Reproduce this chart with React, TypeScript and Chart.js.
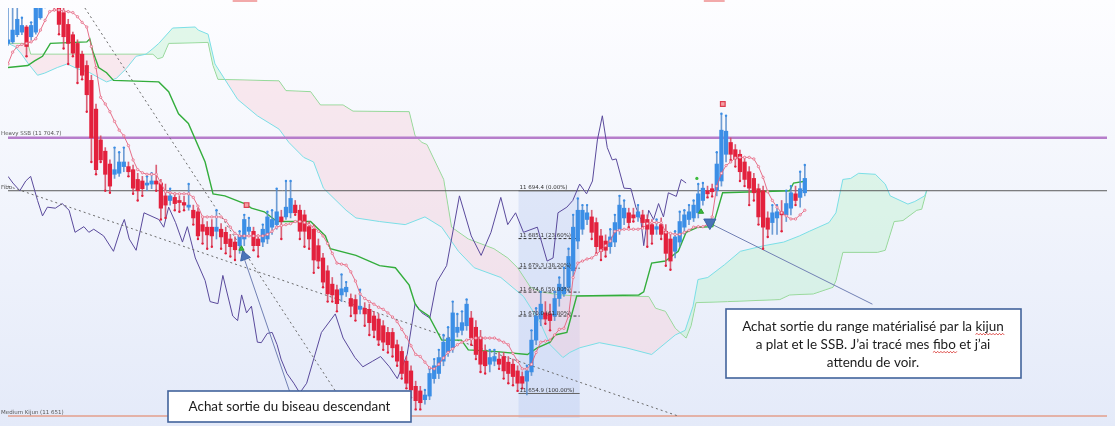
import React, { useEffect, useRef } from "react";
import { Chart, registerables } from "chart.js";

Chart.register(...registerables);

// ---------- DATA ----------
const opens = [
  11723.1, 11723.4, 11724.8, 11725.3, 11726.3, 11724.4, 11725.3, 11728.1, 11730.6, 11733.8,
  11732.8, 11730, 11729.1, 11726.8, 11724.8, 11723.1, 11721, 11718.8, 11715.9, 11710.3,
  11704.3, 11702.1, 11699.6, 11697.6, 11697.8, 11699.1, 11699.1, 11698.5, 11696.6, 11696.3,
  11695.5, 11695.7, 11696.3, 11695.9, 11693.4, 11692.5, 11693.1, 11692.5, 11692.1, 11691.2,
  11690.6, 11690.3, 11687.8, 11687.3, 11687.3, 11686.5, 11686.9, 11686.3, 11685, 11684.4,
  11683.7, 11685, 11686.5, 11686.5, 11685, 11684.4, 11685, 11687.3, 11687.8, 11689.3,
  11689.3, 11690.1, 11691.6, 11690.6, 11689.7, 11687.4, 11686.9, 11683.7, 11681.3, 11678.8,
  11676.2, 11675.1, 11674.1, 11674.7, 11673.4, 11673.2, 11671.3, 11671.5, 11671.3, 11670,
  11669.4, 11668.1, 11666.8, 11666.8, 11664.4, 11663.1, 11661.2, 11659.3, 11656.3, 11655.4,
  11653.7, 11654.4, 11657.8, 11658.8, 11661.2, 11662.9, 11663.8, 11666.8, 11667.2, 11668.1,
  11669.6, 11667.8, 11665.9, 11663.1, 11660.6, 11661.2, 11661.6, 11662.1, 11661, 11660.6,
  11659.3, 11658.2, 11657.3, 11659.1, 11665.3, 11669.4, 11670.6, 11670.4, 11670, 11673.4,
  11674.3, 11675.6, 11678.8, 11684.6, 11686.9, 11688.8, 11689.3, 11688.2, 11685.6, 11684.6,
  11683.5, 11684.4, 11686.9, 11689.1, 11690.1, 11689.7, 11689.3, 11689.7, 11688.8, 11687.8,
  11686.9, 11687.8, 11686.5, 11685, 11682.6, 11684.4, 11687.3, 11688.8, 11689.1, 11690.1,
  11692.5, 11694.4, 11694.8, 11694.4, 11696.3, 11701.5, 11703.8, 11702.4, 11701.5, 11700,
  11698.1, 11696.8, 11694.8, 11694.4, 11689.1, 11688.2, 11689.1, 11690.3, 11689.7, 11691,
  11693.8, 11693.1, 11694,
];
const highs = [
  11731, 11730.5, 11730.9, 11728.1, 11726.6, 11727.2, 11730.9, 11731.9, 11734.7, 11735.3,
  11733.8, 11730.9, 11730, 11727.8, 11725.3, 11723.8, 11721.6, 11719.7, 11716.9, 11711.3,
  11705.1, 11702.8, 11700.4, 11702.8, 11701.9, 11702.8, 11700, 11699.4, 11697.8, 11697.2,
  11697.2, 11697.8, 11699.4, 11696.6, 11695.7, 11694.8, 11694, 11693.4, 11693.3, 11695.7,
  11691.6, 11691, 11689.1, 11688.4, 11688.8, 11690.6, 11688, 11687.3, 11685.9, 11685.4,
  11686.5, 11689.7, 11689.1, 11687.3, 11685.8, 11687.8, 11690.3, 11690.6, 11694.8, 11690.6,
  11696.3, 11696.3, 11692.5, 11691.6, 11690.6, 11688.4, 11687.8, 11685, 11682.2, 11679.8,
  11677.5, 11676, 11678.1, 11676.6, 11674.3, 11674.1, 11675.1, 11672.6, 11672.3, 11670.9,
  11670.4, 11669.1, 11667.8, 11667.6, 11665.3, 11664, 11662.1, 11660.3, 11657.3, 11656.3,
  11655.6, 11659.7, 11661.6, 11663.4, 11666.3, 11667.8, 11672.8, 11670.4, 11670.9, 11673.2,
  11670.9, 11669.1, 11667.2, 11664.4, 11663.4, 11663.4, 11662.9, 11662.9, 11662.1, 11661.6,
  11660.3, 11659.1, 11660.3, 11667.2, 11671.5, 11674.7, 11672.8, 11672.3, 11674.7, 11677.5,
  11679.4, 11683.1, 11689.7, 11692.9, 11691.6, 11691.6, 11690.6, 11689.1, 11686.9, 11685.8,
  11686.9, 11689.7, 11693.4, 11692.5, 11691, 11691, 11691.6, 11690.6, 11689.7, 11688.8,
  11688.8, 11689.1, 11687.8, 11685.9, 11686.5, 11690.3, 11690.6, 11691.6, 11692.5, 11695.7,
  11695.9, 11695.3, 11695.7, 11701.9, 11709.4, 11709, 11704.7, 11703.4, 11702.3, 11700.9,
  11699.1, 11697.8, 11695.7, 11695.3, 11690.3, 11691.6, 11691.6, 11692.5, 11694.4, 11695.3,
  11695.3, 11698.1, 11699.4,
];
const lows = [
  11722.7, 11723.1, 11724.4, 11724.8, 11720.6, 11723.8, 11724.9, 11727.8, 11730, 11730.4,
  11729.6, 11724.9, 11722.1, 11719.1, 11720.6, 11715.4, 11716.1, 11709.8, 11700, 11697.6,
  11700, 11694.4, 11694, 11696.8, 11697.2, 11698.1, 11697.2, 11693.8, 11692.5, 11693.4,
  11694.4, 11694.8, 11694.4, 11688.8, 11689.1, 11691.6, 11690.6, 11690.3, 11690.6, 11690.6,
  11687.8, 11685, 11684.1, 11683.1, 11683.5, 11685, 11683.1, 11682.2, 11681.6, 11680.9,
  11682.2, 11683.7, 11685.8, 11682.8, 11681.6, 11683.5, 11684.1, 11685.9, 11686.9, 11685,
  11688.8, 11689.1, 11689.7, 11685, 11683.5, 11683.1, 11678.4, 11679.4, 11675.6, 11672.8,
  11672.8, 11670.9, 11672.8, 11673.8, 11670, 11669.1, 11670.4, 11668.1, 11666.3, 11665.9,
  11664.4, 11663.4, 11662.9, 11662.1, 11660.3, 11657.8, 11655.9, 11654.1, 11651.8, 11651.8,
  11652.8, 11653.7, 11656.9, 11657.8, 11660.3, 11662.1, 11662.9, 11665.9, 11666.3, 11667.2,
  11664.4, 11661.6, 11659.1, 11658.8, 11659.1, 11660.3, 11659.7, 11657.8, 11656.9, 11656.5,
  11655.4, 11655.9, 11654.6, 11658.4, 11664.4, 11668.1, 11668.5, 11667.2, 11669.1, 11671.9,
  11673.8, 11674.7, 11677.5, 11683.1, 11685.9, 11687.8, 11685, 11682.2, 11680.9, 11681.6,
  11682.2, 11683.5, 11685.9, 11687.8, 11687.3, 11688.4, 11688.4, 11687.3, 11683.5, 11684.1,
  11685.9, 11685, 11679.8, 11679, 11681.3, 11683.5, 11685.9, 11687.8, 11688.4, 11689.1,
  11691.6, 11693.1, 11693.3, 11693.4, 11695.3, 11700, 11700.4, 11699.1, 11696.3, 11695.3,
  11691.6, 11692.5, 11687.8, 11683.1, 11685.4, 11685.9, 11685.9, 11686.5, 11688.4, 11689.7,
  11691.6, 11691.2, 11693.4,
];
const closes = [
  11723.8, 11725.7, 11727.8, 11726.6, 11722.5, 11726.6, 11730, 11730.9, 11733.4, 11731.5,
  11730.4, 11726.8, 11724.4, 11723.1, 11721.2, 11718.4, 11716.9, 11713.1, 11704.7, 11698.5,
  11700.4, 11697.6, 11695.3, 11698.5, 11700, 11700, 11698.1, 11694.9, 11694.4, 11694.8,
  11695.9, 11696.3, 11695.7, 11691, 11691.6, 11693.4, 11691.9, 11692.1, 11691.6, 11691.6,
  11689.1, 11685.6, 11686.5, 11685.8, 11685.6, 11687.3, 11685.4, 11684.1, 11683.5, 11682.9,
  11685.6, 11688.8, 11687.3, 11683.7, 11683.7, 11686.9, 11689.3, 11688.8, 11690.3, 11688.4,
  11691.2, 11692.9, 11690.1, 11686.5, 11686.5, 11685, 11680.9, 11680.7, 11676.6, 11674.3,
  11674.1, 11672.4, 11675.3, 11675.6, 11671.9, 11670.4, 11671.9, 11670.4, 11668.7, 11667.2,
  11665.3, 11664.9, 11664.4, 11663.8, 11661.2, 11658.8, 11656.9, 11655.6, 11653.5, 11653.1,
  11654.6, 11658.8, 11660.3, 11661.9, 11664.9, 11665.7, 11670.6, 11667.8, 11668.7, 11672.3,
  11665.7, 11662.5, 11660.6, 11660.3, 11661.9, 11662.1, 11660.6, 11659.3, 11658.8, 11658.2,
  11656.9, 11656.9, 11659.3, 11665.3, 11670, 11672.3, 11669.4, 11669.1, 11673.4, 11676.2,
  11675.6, 11681.6, 11687.3, 11690.6, 11690.6, 11690.1, 11686.3, 11683.5, 11682.6, 11682.8,
  11685.4, 11688.2, 11691.6, 11691, 11688.2, 11689.1, 11690.3, 11688.2, 11686.9, 11685.9,
  11687.4, 11685.9, 11682.2, 11680.7, 11685.4, 11688.4, 11689.7, 11690.3, 11691.6, 11693.8,
  11694.9, 11693.8, 11694.2, 11699.6, 11706.2, 11706, 11701.5, 11700.6, 11698.1, 11696.6,
  11694.9, 11694, 11689.3, 11687.3, 11686.9, 11690.1, 11690.3, 11689.7, 11691.9, 11694,
  11692.5, 11694.8, 11696.8,
];
// Tenkan-sen, one value per bar
const tenkan = [
  11719.1, 11721.4, 11722.5, 11722.9, 11723.1, 11723.4, 11724, 11725.7, 11727.6, 11729.3,
  11729.6, 11729.6, 11729.4, 11729.3, 11729.1, 11728.3, 11727.2, 11726.3, 11722.5, 11718.4,
  11712.6, 11711.3, 11709.8, 11707.9, 11706.2, 11705.1, 11703.2, 11700.4, 11698.5, 11697.9,
  11697.6, 11697.6, 11697.6, 11695.9, 11694.2, 11694, 11693.8, 11693.8, 11693.8, 11693.8,
  11693.1, 11691.4, 11689.3, 11689.3, 11689.3, 11689.3, 11689.3, 11688.6, 11687.3, 11686.1,
  11685.6, 11685.6, 11685.6, 11685.6, 11685.6, 11685.6, 11685.9, 11686.5, 11687.3, 11687.6,
  11687.8, 11688, 11688.4, 11688.4, 11688.2, 11687.8, 11687.3, 11686.5, 11685.6, 11684.1,
  11682.2, 11680.3, 11680.1, 11679.9, 11678.6, 11676.8, 11674.3, 11673.4, 11672.8, 11672.3,
  11671.7, 11671.3, 11670.6, 11669.8, 11668.9, 11667.4, 11665.9, 11664.2, 11662.5, 11662.1,
  11661, 11659.9, 11659.7, 11660.6, 11661.8, 11662.9, 11663.6, 11664.4, 11664.9, 11665.3,
  11665.5, 11665.7, 11665.7, 11665.7, 11665.7, 11665.7, 11665.3, 11664.9, 11664.4, 11662.7,
  11661.2, 11659.7, 11659.7, 11660.6, 11662.9, 11664.9, 11665.1, 11665.3, 11666.3, 11667.4,
  11667.6, 11670, 11677.5, 11680.3, 11680.7, 11681.1, 11681.3, 11682, 11682.8, 11683.7,
  11684.6, 11686.5, 11686.7, 11686.9, 11686.9, 11686.9, 11686.9, 11687.1, 11688, 11688.2,
  11688.2, 11688.2, 11686.3, 11686.1, 11685.9, 11685.9, 11686.3, 11686.7, 11687.3, 11687.4,
  11687.4, 11687.8, 11689.3, 11695.3, 11697.8, 11699.3, 11700, 11700.8, 11700.9, 11700.9,
  11700.9, 11700.6, 11699.1, 11697, 11694.2, 11692.5, 11691.2, 11690.1, 11689.5, 11688.9,
  11688.9, 11689.7, 11690.6,
];
// Kijun-sen [bar, price]
const kijun = [
  [0, 11718.4], [4.26, 11718.8], [5.74, 11719.7], [7.45, 11720.6], [9.15, 11723.1], [17.02, 11723.4],
  [17.66, 11724], [18.3, 11721.6], [19.57, 11718.4], [21.28, 11717.4], [22.77, 11715.9], [32.55, 11715.6],
  [34.68, 11713.7], [36.81, 11709.4], [38.94, 11707.5], [42.55, 11700], [44.26, 11693.8], [46.81, 11693.4],
  [51.06, 11691.9], [52.55, 11691], [55.32, 11690.3], [58.09, 11688.4], [65.32, 11688.4], [68.51, 11685.6],
  [69.57, 11683.1], [75.11, 11681.8], [80.21, 11679.8], [83.62, 11679.4], [86.6, 11676], [87.87, 11672.4],
  [88.72, 11671.3], [90.85, 11670], [93.62, 11665.3], [97.87, 11665.3], [99.36, 11663.4], [104.89, 11663.1],
  [112.13, 11662.5], [114.26, 11663.8], [117.02, 11664.9], [118.09, 11666.3], [120.64, 11666.8],
  [122.77, 11673.9], [136.17, 11674.1], [137.23, 11674.7], [138.94, 11680.3], [141.91, 11680.7],
  [144.68, 11682.6], [146.38, 11686.3], [148.94, 11687.3], [152.13, 11687.4], [154.26, 11694],
  [168.72, 11694.4], [169.57, 11695.9], [172.34, 11696.3],
];
// Senkou span B [bar, price]
const senkouB = [
  [0, 11723.1], [4.26, 11723.1], [4.89, 11721], [31.28, 11721], [32.34, 11720.1], [33.4, 11720.4],
  [34.68, 11723.1], [43.19, 11723.3], [44.26, 11718.8], [45.32, 11716.1], [58.51, 11715.8], [60, 11713.9],
  [65.32, 11713.7], [67.45, 11711.1], [72.34, 11711.1], [74.47, 11709.9], [86.6, 11709.8], [87.87, 11705.1],
  [89.36, 11703.8], [90.43, 11703.4], [94.04, 11696.6], [95.74, 11687.3], [99.36, 11685], [104.89, 11683.1],
  [107.87, 11681.3], [110, 11679.4], [112.77, 11675.6], [114.89, 11674.7], [119.15, 11674.1],
  [122.77, 11673.9], [138.3, 11673.8], [139.79, 11671.5], [141.91, 11670.9], [144.04, 11667.6],
  [146.38, 11665.7], [147.45, 11668.1], [148.51, 11672.6], [155.32, 11672.8], [166.6, 11673.2],
  [168.72, 11674.1], [173.83, 11674.3], [178.09, 11675.6], [178.72, 11676.9], [180.21, 11682.4],
  [187.66, 11682.4], [189.36, 11682.8], [191.28, 11688.4], [193.19, 11688.6], [196.17, 11690.6],
  [197.23, 11690.8], [198.3, 11694.4],
];
// Senkou span A [bar, price]
const senkouA = [
  [0, 11723.1], [1.49, 11722.5], [2.77, 11721.2], [4.26, 11719.3], [6.38, 11716.9], [7.87, 11717.3],
  [10.64, 11718.4], [12.77, 11719.1], [14.89, 11718.2], [17.66, 11717.4], [19.79, 11716.3], [21.28, 11715.6],
  [23.4, 11716.3], [25.53, 11718.2], [27.66, 11720.6], [29.79, 11721], [31.28, 11722.1], [32.55, 11723.1],
  [35.53, 11726.1], [40.43, 11726.3], [41.06, 11725.7], [43.19, 11724.9], [44.68, 11719.1], [49.57, 11712.2],
  [53.83, 11709], [58.51, 11706.4], [60.64, 11703.8], [63.83, 11700.9], [65.96, 11700], [68.09, 11694.9],
  [72.98, 11690.6], [75.11, 11689.1], [80.21, 11688.4], [85.74, 11687.8], [90, 11689.3], [93.62, 11687.3],
  [97.23, 11682.6], [100.64, 11679.4], [106.38, 11677.5], [111.28, 11673.8], [114.89, 11668.7],
  [117.02, 11664.4], [119.79, 11661.9], [121.28, 11662.9], [123.4, 11663.8], [127.66, 11664.8],
  [133.4, 11663.8], [138.94, 11662.5], [144.04, 11666.3], [146.17, 11667.2], [147.87, 11671.9],
  [148.94, 11677.1], [151.06, 11677.5], [154.68, 11680], [158.09, 11682.6], [163.19, 11683.7],
  [167.45, 11684.4], [170.85, 11685.6], [172.98, 11686.5], [177.23, 11688.2], [178.72, 11690.1],
  [180.21, 11696.6], [181.91, 11696.8], [183.62, 11697.8], [187.23, 11697.6], [189.36, 11695.7],
  [190.43, 11693.4], [194.26, 11691.8], [195.74, 11692.3], [197.87, 11693.4], [198.3, 11694.4],
];
// Chikou span [bar, price]
const chikou = [
  [0, 11697.2], [1.06, 11695.9], [2.55, 11694.4], [3.83, 11696.3], [4.89, 11697.2], [6.38, 11692.5],
  [7.45, 11689.5], [8.51, 11691.2], [10.21, 11691], [11.7, 11691.9], [13.19, 11690.6], [14.47, 11686.3],
  [16.38, 11687.4], [17.45, 11686.3], [18.51, 11686.9], [20.64, 11685.6], [22.77, 11682.6], [24.47, 11687.4],
  [25.11, 11688.8], [26.17, 11685], [27.66, 11682.8], [29.36, 11690.1], [32.55, 11688.8], [33.62, 11687.3],
  [34.68, 11691.2], [36.17, 11688.2], [37.66, 11684.4], [38.72, 11687.4], [40.43, 11681.3], [42.55, 11676.9],
  [43.62, 11672.8], [45.32, 11672.4], [46.38, 11677.9], [48.51, 11670], [49.57, 11669.1], [50.43, 11674.1],
  [51.49, 11670.6], [52.55, 11671.9], [53.83, 11664.9], [54.68, 11664.8], [55.96, 11666.6], [57.02, 11666.8],
  [58.09, 11664.4], [58.94, 11661.6], [60.21, 11658.8], [61.7, 11656.9], [62.98, 11655], [64.47, 11656.9],
  [67.66, 11666.8], [70.64, 11670.4], [72.34, 11665.7], [74.89, 11661.9], [76.6, 11660.1], [78.72, 11661.2],
  [80.43, 11662.1], [82.34, 11660.1], [84.04, 11657.8], [86.17, 11662.5], [87.87, 11672.4], [89.36, 11670.6],
  [91.06, 11669.6], [92.55, 11676.6], [94.68, 11679.8], [97.45, 11693.4], [100, 11685.6], [102.13, 11681.8],
  [104.26, 11686.3], [106.38, 11693.1], [107.87, 11687.8], [109.57, 11690.1], [111.28, 11686.3],
  [114.26, 11687.3], [116.38, 11680.7], [117.66, 11681.3], [118.72, 11690.1], [120.64, 11691.2],
  [121.91, 11692.5], [123.4, 11695.7], [124.89, 11693.8], [126.17, 11696.3], [127.23, 11704.3],
  [128.3, 11709], [129.36, 11702.8], [130.43, 11700.4], [131.28, 11700.6], [132.98, 11694.9],
  [134.47, 11694.8], [135.53, 11691.2], [136.6, 11688.8], [137.23, 11683.7], [138.3, 11690.6],
  [139.36, 11688.8], [140.43, 11691.9], [141.49, 11689.3], [142.55, 11694], [144.26, 11693.3],
  [145.32, 11696.6], [146.38, 11695.9],
];
// Horizontal levels
const heavySSB = 11704.7;
const fiboLevelLine = 11694.4;
const mediumKijun = 11650.5;
// Fibonacci retracement
const fiboHigh = 11694.4;
const fiboLow = 11654.9;
const fiboRatios = [0, 0.236, 0.382, 0.5, 0.618, 1];
const fiboSpan = [110.2, 123.4];
// Trend lines [[bar, price], [bar, price]]
const dottedTrends = [
  [[16.6, 11730], [74.5, 11650.1]],
  [[0, 11695.3], [144.7, 11650.5]],
];
const solidTrends = [
  [[51.1, 11680.9], [62.3, 11651.3]],
  [[152.1, 11687.8], [186.6, 11672.3]],
];
// Signals
const blueTriangles = [[51.06, 11681.6], [151.5, 11688.2]];
const greenArrows = [[50.4, 11683.1], [149.6, 11690.3]];
const greenDots = [[148.7, 11696.8]];
const redSquares = [[51.5, 11691.6], [154.3, 11711.3]];
const topTags = [[48.5, 53.8], [150.2, 154.7]];

const note1 = "Achat sortie du biseau descendant";
const note2 = [
  "Achat sortie du range matérialisé par la kijun",
  "a plat et le SSB. J’ai tracé mes fibo et j’ai",
  "attendu de voir.",
];

// ---------- CHART ----------
const W = 1115;
const H = 426;
const X_MAX = W / 4.7;
const Y_MIN = 11650.125;
const Y_MAX = 11730;

const RED = "#e3213d";
const BLUE = "#3b8ee6";

const pts = (arr: number[][]) => arr.map(([x, y]) => ({ x, y }));
const fmt = (v: number) => {
  const s = v.toFixed(1);
  return s.slice(0, 2) + " " + s.slice(2);
};

function squiggle(ctx: CanvasRenderingContext2D, x0: number, x1: number, y: number) {
  ctx.save();
  ctx.beginPath();
  ctx.moveTo(x0, y);
  let up = true;
  for (let x = x0; x < x1; x += 1.6) {
    ctx.lineTo(x + 1.6, up ? y - 1.1 : y + 0.6);
    up = !up;
  }
  ctx.strokeStyle = "#d8302c";
  ctx.lineWidth = 0.8;
  ctx.stroke();
  ctx.restore();
}

const overlay = {
  id: "overlay",
  beforeDraw(chart: any) {
    const { ctx, width, height } = chart;
    const g = ctx.createLinearGradient(0, 0, 0, height);
    g.addColorStop(0, "#fdfdff");
    g.addColorStop(0.5, "#f1f4fc");
    g.addColorStop(1, "#e4eaf9");
    ctx.save();
    ctx.fillStyle = g;
    ctx.fillRect(0, 0, width, height);
    ctx.restore();
  },
  beforeDatasetsDraw(chart: any) {
    const { ctx, chartArea } = chart;
    const xs = chart.scales.x;
    const ys = chart.scales.y;
    const x0 = xs.getPixelForValue(fiboSpan[0]);
    const x1 = xs.getPixelForValue(fiboSpan[1]);
    const y0 = ys.getPixelForValue(fiboHigh);
    ctx.save();
    ctx.fillStyle = "rgba(150,176,236,0.22)";
    ctx.fillRect(x0, y0, x1 - x0, chartArea.bottom - y0);
    ctx.fillStyle = "#f2a9aa";
    topTags.forEach(([a, b]) => {
      const xa = xs.getPixelForValue(a);
      const xb = xs.getPixelForValue(b);
      ctx.fillRect(xa, 0, xb - xa, 2);
    });
    ctx.restore();
  },
  afterDatasetsDraw(chart: any) {
    const { ctx } = chart;
    const xs = chart.scales.x;
    const ys = chart.scales.y;
    ctx.save();
    // fibo labels
    ctx.font = '5.5px "DejaVu Sans"';
    ctx.fillStyle = "#333";
    ctx.textBaseline = "alphabetic";
    ctx.textAlign = "left";
    const fx = xs.getPixelForValue(fiboSpan[0]);
    fiboRatios.forEach((r) => {
      const v = fiboHigh - r * (fiboHigh - fiboLow);
      const y = ys.getPixelForValue(v);
      ctx.fillText(`${fmt(v)} (${(r * 100).toFixed(2)}%)`, fx + 1, y - 1.5);
    });
    // left labels
    ctx.fillStyle = "#555";
    ctx.fillText(`Heavy SSB (${fmt(heavySSB)})`, 1, ys.getPixelForValue(heavySSB) - 2.5);
    ctx.fillText("Fibo", 1, ys.getPixelForValue(fiboLevelLine) - 2);
    ctx.fillText("Medium Kijun (11 651)", 1, ys.getPixelForValue(mediumKijun) - 2.5);

    const drawBox = (x: number, y: number, w: number, h: number) => {
      ctx.fillStyle = "#ffffff";
      ctx.fillRect(x, y, w, h);
      ctx.strokeStyle = "#42639c";
      ctx.lineWidth = 1.6;
      ctx.strokeRect(x, y, w, h);
    };
    const fit = (text: string, target: number) => {
      ctx.font = "100px Lato";
      return (100 * target) / ctx.measureText(text).width;
    };
    // box 1
    drawBox(168, 391, 243, 31);
    ctx.fillStyle = "#1b1b1b";
    ctx.textBaseline = "middle";
    let size = fit(note1, 202);
    ctx.font = `${size}px Lato`;
    ctx.textAlign = "center";
    ctx.fillText(note1, 289.5, 407);

    // box 2
    drawBox(726, 309, 295, 69);
    size = fit(note2[0], 262);
    ctx.font = `${size}px Lato`;
    ctx.textAlign = "left";
    const lineY = [327, 345, 363];
    note2.forEach((t, i) => {
      const w = ctx.measureText(t).width;
      const sx = 873 - w / 2;
      ctx.fillStyle = "#1b1b1b";
      ctx.fillText(t, sx, lineY[i]);
      const mark = (word: string) => {
        const k = t.indexOf(word);
        if (k < 0) return;
        const a = sx + ctx.measureText(t.slice(0, k)).width;
        const b = a + ctx.measureText(word).width;
        squiggle(ctx, a, b, lineY[i] + size * 0.55);
      };
      if (i === 0) mark("kijun");
      if (i === 1) mark("fibo");
    });
    ctx.restore();
  },
};

function buildConfig(): any {
  const idx = opens.map((_, i) => i);
  const isRed = (i: number) => closes[i] < opens[i];
  const bodyColors = idx.map((i) => (isRed(i) ? RED : BLUE));
  const wickColors = idx.map((i) => (isRed(i) ? "rgba(214,70,95,0.85)" : "rgba(86,140,205,0.85)"));
  const hline = (v: number) => [
    { x: 0, y: v },
    { x: X_MAX, y: v },
  ];
  const base = { pointRadius: 0, tension: 0, fill: false };

  const datasets: any[] = [
    { type: "line", label: "SSB", data: pts(senkouB), borderColor: "#8bd890", borderWidth: 1, ...base, order: 100 },
    {
      type: "line",
      label: "SSA",
      data: pts(senkouA),
      borderColor: "#7bdfe7",
      borderWidth: 1,
      pointRadius: 0,
      tension: 0,
      fill: { target: "-1", above: "rgba(188,240,206,0.42)", below: "rgba(248,204,214,0.4)" },
      order: 99,
    },
    { type: "line", label: "Heavy SSB", data: hline(heavySSB), borderColor: "#b67dcb", borderWidth: 2.5, ...base, order: 90 },
    { type: "line", label: "Fibo", data: hline(fiboLevelLine), borderColor: "#5a5a5a", borderWidth: 1, ...base, order: 89 },
    { type: "line", label: "Medium Kijun", data: hline(mediumKijun), borderColor: "rgba(226,150,128,0.9)", borderWidth: 1.5, ...base, order: 88 },
  ];
  fiboRatios.forEach((r) => {
    const v = fiboHigh - r * (fiboHigh - fiboLow);
    const solid = r === 0 || r === 1;
    datasets.push({
      type: "line",
      data: [
        { x: fiboSpan[0], y: v },
        { x: fiboSpan[1], y: v },
      ],
      borderColor: solid ? "#666" : "#333",
      borderWidth: 1,
      borderDash: solid ? [] : [3, 2],
      ...base,
      order: 85,
    });
  });
  datasets.push({ type: "line", label: "Chikou", data: pts(chikou), borderColor: "#5a4a9c", borderWidth: 1, ...base, order: 80 });
  dottedTrends.forEach((t) =>
    datasets.push({ type: "line", data: pts(t), borderColor: "#6a6a6a", borderWidth: 1, borderDash: [2, 3], ...base, order: 75 })
  );
  solidTrends.forEach((t) =>
    datasets.push({ type: "line", data: pts(t), borderColor: "#7180b4", borderWidth: 1, ...base, order: 75 })
  );
  datasets.push({ type: "line", label: "Kijun", data: pts(kijun), borderColor: "#33ad3c", borderWidth: 1.4, ...base, order: 60 });
  datasets.push({
    type: "bar",
    label: "wicks",
    data: idx.map((i) => ({ x: i, y: [lows[i], highs[i]] })),
    backgroundColor: wickColors,
    barThickness: 1,
    grouped: false,
    order: 50,
  });
  datasets.push({
    type: "bar",
    label: "bodies",
    data: idx.map((i) => ({ x: i, y: [opens[i], closes[i]] })),
    backgroundColor: bodyColors,
    barThickness: 3.6,
    minBarLength: 1,
    grouped: false,
    order: 40,
  });
  datasets.push({
    type: "line",
    label: "wick ends",
    data: idx.map((i) => ({ x: i, y: isRed(i) ? lows[i] : highs[i] })),
    showLine: false,
    pointRadius: 1.2,
    pointBorderWidth: 0,
    pointBackgroundColor: bodyColors,
    order: 35,
  });
  datasets.push({
    type: "line",
    label: "Tenkan",
    data: tenkan.map((y, i) => ({ x: i, y })),
    borderColor: "#e4607c",
    borderWidth: 0.9,
    pointRadius: 1.2,
    pointBorderWidth: 0.7,
    pointBorderColor: "#e4607c",
    pointBackgroundColor: "#fbe1e8",
    tension: 0,
    fill: false,
    order: 30,
  });
  datasets.push({
    type: "line",
    data: pts(blueTriangles),
    showLine: false,
    pointStyle: "triangle",
    pointRotation: [100, 180],
    pointRadius: [6, 7],
    pointBackgroundColor: "#4a73b8",
    pointBorderColor: "#3d64a8",
    pointBorderWidth: 1,
    order: 20,
  });
  datasets.push({
    type: "line",
    data: pts(greenArrows),
    showLine: false,
    pointStyle: "triangle",
    pointRadius: 3,
    pointBackgroundColor: "#3dbb3d",
    pointBorderColor: "#2e9e2e",
    pointBorderWidth: 1,
    order: 20,
  });
  datasets.push({
    type: "line",
    data: pts(greenDots),
    showLine: false,
    pointRadius: 1.6,
    pointBackgroundColor: "#3dbb3d",
    pointBorderWidth: 0,
    order: 20,
  });
  datasets.push({
    type: "line",
    data: pts(redSquares),
    showLine: false,
    pointStyle: "rect",
    pointRadius: 3.3,
    pointBackgroundColor: "#f4a0a4",
    pointBorderColor: "#de3e50",
    pointBorderWidth: 1.2,
    order: 20,
  });

  return {
    type: "bar",
    data: { datasets },
    options: {
      responsive: false,
      animation: false,
      devicePixelRatio: 1,
      layout: { padding: 0 },
      events: [],
      plugins: { legend: { display: false }, tooltip: { enabled: false } },
      scales: {
        x: { type: "linear", display: false, min: 0, max: X_MAX, offset: false },
        y: { type: "linear", display: false, min: Y_MIN, max: Y_MAX, beginAtZero: false },
      },
    },
    plugins: [overlay],
  };
}

export default function App() {
  const ref = useRef<HTMLCanvasElement>(null);
  useEffect(() => {
    document.body.style.margin = "0";
    const chart = new Chart(ref.current as HTMLCanvasElement, buildConfig());
    return () => chart.destroy();
  }, []);
  return (
    <div style={{ width: W, height: H }}>
      <canvas ref={ref} width={W} height={H} style={{ display: "block", width: W, height: H }} />
    </div>
  );
}
